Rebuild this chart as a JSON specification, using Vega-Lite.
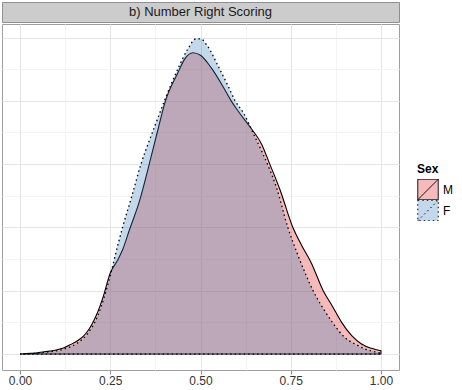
{
  "$schema": "https://vega.github.io/schema/vega-lite/v6.json",
  "padding": {"left": 1, "top": 1, "right": 0, "bottom": 0},
  "autosize": {"type": "pad"},
  "spacing": 0,
  "config": {
    "font": "Liberation Sans",
    "concat": {"spacing": 0},
    "legend": {
      "titleFontSize": 12, "titleFontWeight": "bold", "titleColor": "#000000", "titlePadding": 3,
      "labelFontSize": 12, "labelColor": "#000000", "labelOffset": 4,
      "rowPadding": 0, "clipHeight": 21, "symbolStrokeColor": "#000000", "symbolStrokeWidth": 1,
      "symbolSize": 420, "symbolType": "M-1,-1H1V1H-1Z M-1,1L1,-1"
    }
  },
  "vconcat": [
    {
      "width": 397,
      "height": 20,
      "view": {"fill": "#cccccc", "stroke": "#8f8f8f"},
      "data": {"values": [{"label": "b) Number Right Scoring"}]},
      "mark": {"type": "text", "fontSize": 13, "color": "#1a1a1a", "baseline": "middle", "align": "center"},
      "encoding": {"text": {"field": "label", "type": "nominal"}}
    },
    {
      "width": 397,
      "height": 346,
      "view": {"fill": "#ffffff", "stroke": "#9e9e9e"},
      "data": {"values": [
        {"Sex": "M", "x": 0.0, "density": 0.0},
        {"Sex": "M", "x": 0.03, "density": 0.005},
        {"Sex": "M", "x": 0.067, "density": 0.018},
        {"Sex": "M", "x": 0.1, "density": 0.032},
        {"Sex": "M", "x": 0.122, "density": 0.05},
        {"Sex": "M", "x": 0.14, "density": 0.075},
        {"Sex": "M", "x": 0.159, "density": 0.105},
        {"Sex": "M", "x": 0.175, "density": 0.14},
        {"Sex": "M", "x": 0.187, "density": 0.18},
        {"Sex": "M", "x": 0.2, "density": 0.24},
        {"Sex": "M", "x": 0.215, "density": 0.33},
        {"Sex": "M", "x": 0.23, "density": 0.45},
        {"Sex": "M", "x": 0.25, "density": 0.64},
        {"Sex": "M", "x": 0.27, "density": 0.74},
        {"Sex": "M", "x": 0.285, "density": 0.83},
        {"Sex": "M", "x": 0.303, "density": 0.98},
        {"Sex": "M", "x": 0.33, "density": 1.2},
        {"Sex": "M", "x": 0.358, "density": 1.5},
        {"Sex": "M", "x": 0.38, "density": 1.75},
        {"Sex": "M", "x": 0.403, "density": 2.0},
        {"Sex": "M", "x": 0.437, "density": 2.22},
        {"Sex": "M", "x": 0.456, "density": 2.33},
        {"Sex": "M", "x": 0.479, "density": 2.38},
        {"Sex": "M", "x": 0.5, "density": 2.36},
        {"Sex": "M", "x": 0.53, "density": 2.26},
        {"Sex": "M", "x": 0.567, "density": 2.09},
        {"Sex": "M", "x": 0.585, "density": 2.0},
        {"Sex": "M", "x": 0.604, "density": 1.92},
        {"Sex": "M", "x": 0.641, "density": 1.78},
        {"Sex": "M", "x": 0.669, "density": 1.66},
        {"Sex": "M", "x": 0.692, "density": 1.5},
        {"Sex": "M", "x": 0.72, "density": 1.3},
        {"Sex": "M", "x": 0.756, "density": 1.0},
        {"Sex": "M", "x": 0.78, "density": 0.86},
        {"Sex": "M", "x": 0.807, "density": 0.72},
        {"Sex": "M", "x": 0.84, "density": 0.5},
        {"Sex": "M", "x": 0.865, "density": 0.38},
        {"Sex": "M", "x": 0.891, "density": 0.25},
        {"Sex": "M", "x": 0.919, "density": 0.145},
        {"Sex": "M", "x": 0.946, "density": 0.08},
        {"Sex": "M", "x": 0.974, "density": 0.045},
        {"Sex": "M", "x": 1.0, "density": 0.026},
        {"Sex": "F", "x": 0.0, "density": 0.0},
        {"Sex": "F", "x": 0.067, "density": 0.013},
        {"Sex": "F", "x": 0.122, "density": 0.04},
        {"Sex": "F", "x": 0.159, "density": 0.087},
        {"Sex": "F", "x": 0.187, "density": 0.16},
        {"Sex": "F", "x": 0.215, "density": 0.3},
        {"Sex": "F", "x": 0.25, "density": 0.62},
        {"Sex": "F", "x": 0.27, "density": 0.85},
        {"Sex": "F", "x": 0.284, "density": 1.0},
        {"Sex": "F", "x": 0.31, "density": 1.25},
        {"Sex": "F", "x": 0.335, "density": 1.5},
        {"Sex": "F", "x": 0.36, "density": 1.7},
        {"Sex": "F", "x": 0.38, "density": 1.85},
        {"Sex": "F", "x": 0.4, "density": 2.0},
        {"Sex": "F", "x": 0.437, "density": 2.25},
        {"Sex": "F", "x": 0.465, "density": 2.41},
        {"Sex": "F", "x": 0.488, "density": 2.49},
        {"Sex": "F", "x": 0.5, "density": 2.49},
        {"Sex": "F", "x": 0.52, "density": 2.43},
        {"Sex": "F", "x": 0.548, "density": 2.28},
        {"Sex": "F", "x": 0.576, "density": 2.12},
        {"Sex": "F", "x": 0.596, "density": 2.0},
        {"Sex": "F", "x": 0.62, "density": 1.9},
        {"Sex": "F", "x": 0.65, "density": 1.72},
        {"Sex": "F", "x": 0.67, "density": 1.6},
        {"Sex": "F", "x": 0.69, "density": 1.47},
        {"Sex": "F", "x": 0.71, "density": 1.32},
        {"Sex": "F", "x": 0.742, "density": 1.0},
        {"Sex": "F", "x": 0.77, "density": 0.78},
        {"Sex": "F", "x": 0.79, "density": 0.64},
        {"Sex": "F", "x": 0.812, "density": 0.5},
        {"Sex": "F", "x": 0.84, "density": 0.36},
        {"Sex": "F", "x": 0.868, "density": 0.24},
        {"Sex": "F", "x": 0.9, "density": 0.13},
        {"Sex": "F", "x": 0.928, "density": 0.08},
        {"Sex": "F", "x": 0.956, "density": 0.04},
        {"Sex": "F", "x": 0.983, "density": 0.018},
        {"Sex": "F", "x": 1.0, "density": 0.008}
      ]},
      "encoding": {
        "x": {
          "field": "x", "type": "quantitative",
          "scale": {"domain": [-0.05, 1.05], "nice": false, "zero": false},
          "axis": {
            "title": null, "domain": false,
            "values": [0, 0.125, 0.25, 0.375, 0.5, 0.625, 0.75, 0.875, 1],
            "labelExpr": "(datum.value * 4) % 1 === 0 ? format(datum.value, '.2f') : ''",
            "labelFontSize": 12, "labelColor": "#333333", "labelPadding": 1,
            "tickSize": 4,
            "tickColor": {"condition": {"test": "(datum.value * 4) % 1 !== 0", "value": "transparent"}, "value": "#8f8f8f"},
            "gridColor": {"condition": {"test": "(datum.value * 4) % 1 === 0", "value": "#e6e6e6"}, "value": "#f3f3f3"},
            "gridWidth": 1
          }
        },
        "y": {
          "field": "density", "type": "quantitative",
          "scale": {"domain": [-0.126, 2.607], "nice": false, "zero": false},
          "axis": {
            "title": null, "domain": false, "labels": false, "ticks": false,
            "values": [0, 0.25, 0.5, 0.75, 1, 1.25, 1.5, 1.75, 2, 2.25, 2.5],
            "gridColor": {"condition": {"test": "(datum.value * 2) % 1 === 0", "value": "#e6e6e6"}, "value": "#f3f3f3"},
            "gridWidth": 1
          }
        },
        "y2": {"datum": 0},
        "fill": {
          "field": "Sex", "type": "nominal",
          "scale": {"domain": ["M", "F"], "range": ["#E41A1C", "#377EB8"]},
          "legend": {
            "orient": "none", "legendX": 415, "legendY": 162,
            "encode": {"symbols": {"update": {
              "fillOpacity": {"value": 0.3},
              "strokeDash": [{"test": "datum.value === 'F'", "value": [1.5, 3]}, {"value": [1, 0]}]
            }}}
          }
        }
      },
      "layer": [
        {
          "transform": [{"filter": "datum.Sex === 'M'"}],
          "mark": {"type": "area", "interpolate": "monotone", "fillOpacity": 0.3, "stroke": "#000000", "strokeWidth": 1.1}
        },
        {
          "transform": [{"filter": "datum.Sex === 'F'"}],
          "mark": {"type": "area", "interpolate": "monotone", "fillOpacity": 0.3, "stroke": "#000000", "strokeWidth": 1.3, "strokeDash": [1.5, 3]}
        }
      ]
    }
  ]
}
